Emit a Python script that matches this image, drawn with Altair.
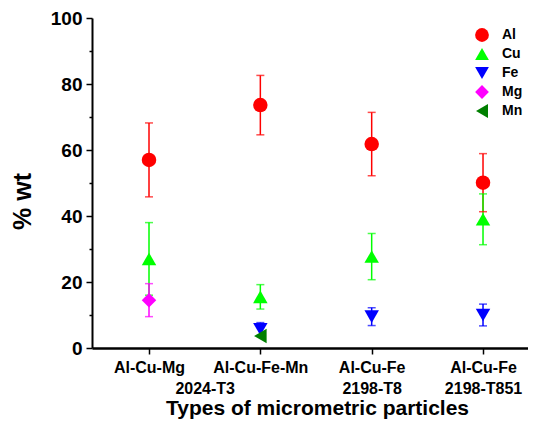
import json
import altair as alt
import pandas as pd

# ---- data ----
particles = ["Al-Cu-Mg", "Al-Cu-Fe-Mn", "Al-Cu-Fe", "Al-Cu-Fe"]
particle_pos = [1, 2, 3, 4]
alloys = ["2024-T3", "2198-T8", "2198-T851"]
alloy_pos = [1.5, 3, 4]

elements = ["Al", "Cu", "Fe", "Mg", "Mn"]
colors = ["#ff0000", "#00ff00", "#0000ff", "#ff00ff", "#007f00"]
shapes = ["circle", "triangle-up", "triangle-down", "diamond", "triangle-left"]

al_mean = [57.0, 73.6, 61.8, 50.1]
al_err = [11.2, 9.0, 9.6, 8.8]
cu_mean = [27.0, 15.5, 27.7, 39.0]
cu_err = [11.0, 3.7, 7.0, 7.7]
fe_mean = [None, 5.7, 9.5, 10.0]
fe_err = [None, 2.0, 2.7, 3.3]
mg_mean = [14.5, None, None, None]
mg_err = [5.0, None, None, None]
mn_mean = [None, 3.6, None, None]
mn_err = [None, None, None, None]

y_ticks = [0, 20, 40, 60, 80, 100]
y_minor = [10, 30, 50, 70, 90]

series = {
    "Al": (al_mean, al_err),
    "Cu": (cu_mean, cu_err),
    "Fe": (fe_mean, fe_err),
    "Mg": (mg_mean, mg_err),
    "Mn": (mn_mean, mn_err),
}

pt_rows, err_rows = [], []
for el in elements:
    means, errs = series[el]
    for pos, m, e in zip(particle_pos, means, errs):
        if m is None:
            continue
        pt_rows.append({"x": pos, "element": el, "value": m})
        if e:
            err_rows.append({"x": pos, "element": el, "lo": m - e, "hi": m + e})
pts = pd.DataFrame(pt_rows)
errs = pd.DataFrame(err_rows)

# ---- x axis labels (two lines) ----
label_pos = sorted(set(particle_pos) | set(alloy_pos))
expr = "''"
for pos in reversed(label_pos):
    lines = [particles[particle_pos.index(pos)] if pos in particle_pos else ""]
    if pos in alloy_pos:
        lines.append(alloys[alloy_pos.index(pos)])
    expr = f"datum.value == {pos} ? {json.dumps(lines)} : ({expr})"

FONT = "Liberation Sans"

x_axis = alt.Axis(
    values=label_pos, labelExpr=expr, title="Types of micrometric particles",
    labelFont=FONT, labelFontSize=16, labelFontWeight="bold", labelColor="black",
    labelLineHeight=21, labelPadding=5, labelOverlap=False, labelFlush=False,
    labelBound=False, tickSize=6, tickWidth=1.5, tickColor="black",
    tickOpacity={"condition": {"test": "datum.value == 1.5", "value": 0}, "value": 1},
    domainColor="black", domainWidth=2.5, grid=False,
    titleFont=FONT, titleFontSize=21, titleFontWeight="bold", titleColor="black",
    titleX=225, titleY=49,
)
x_scale = alt.Scale(domain=[0.488, 4.404], nice=False, zero=False)
x_enc = alt.X("x:Q", scale=x_scale, axis=x_axis)

y_scale = alt.Scale(domain=[0, 100], nice=False)
y_axis = alt.Axis(
    values=y_ticks, title="% wt", grid=False,
    labelFont=FONT, labelFontSize=19, labelFontWeight="bold", labelColor="black",
    labelPadding=4, tickSize=6, tickWidth=1.5, tickColor="black",
    domainColor="black", domainWidth=2,
    titleFont=FONT, titleFontSize=25, titleFontWeight="bold", titleColor="black",
    titleX=-57, titleY=183,
)
y_minor_axis = alt.Axis(
    values=y_minor, orient="left", labels=False, title=None, grid=False,
    tickSize=3, tickWidth=1.5, tickColor="black", domain=False,
)

color_scale = alt.Scale(domain=elements, range=colors)
shape_scale = alt.Scale(domain=elements, range=shapes)
legend = alt.Legend(
    title=None, orient="none", legendX=383, legendY=10, padding=0,
    labelFont=FONT, labelFontSize=14, labelFontWeight="bold", labelColor="black",
    symbolSize=190, rowPadding=5, labelOffset=13, symbolStrokeWidth=0,
    symbolOpacity=1,
)
color_enc = alt.Color("element:N", scale=color_scale, legend=legend)

rules = alt.Chart(errs).mark_rule(strokeWidth=1.5).encode(
    x=x_enc,
    y=alt.Y("lo:Q", scale=y_scale, axis=y_axis),
    y2="hi:Q",
    color=color_enc,
)
caps_lo = alt.Chart(errs).mark_tick(orient="horizontal", size=8, thickness=1.5).encode(
    x=x_enc,
    y=alt.Y("lo:Q", scale=y_scale, axis=y_minor_axis),
    color=color_enc,
)
caps_hi = alt.Chart(errs).mark_tick(orient="horizontal", size=8, thickness=1.5).encode(
    x=x_enc,
    y=alt.Y("hi:Q", scale=y_scale, axis=None),
    color=color_enc,
)
points = alt.Chart(pts).mark_point(filled=True, opacity=1, size=210, strokeWidth=0).encode(
    x=x_enc,
    y=alt.Y("value:Q", scale=y_scale, axis=None),
    color=color_enc,
    shape=alt.Shape("element:N", scale=shape_scale, legend=legend),
)

chart = (
    alt.layer(rules, caps_lo, caps_hi, points)
    .resolve_axis(y="independent")
    .properties(
        width=436, height=330,
        autosize=alt.AutoSizeParams(type="none"),
        padding={"left": 84, "top": 10, "right": 0, "bottom": 72},
        background="white",
    )
    .configure_view(stroke=None)
)

chart.save("out.html", embed_options={"renderer": "svg", "actions": False})
